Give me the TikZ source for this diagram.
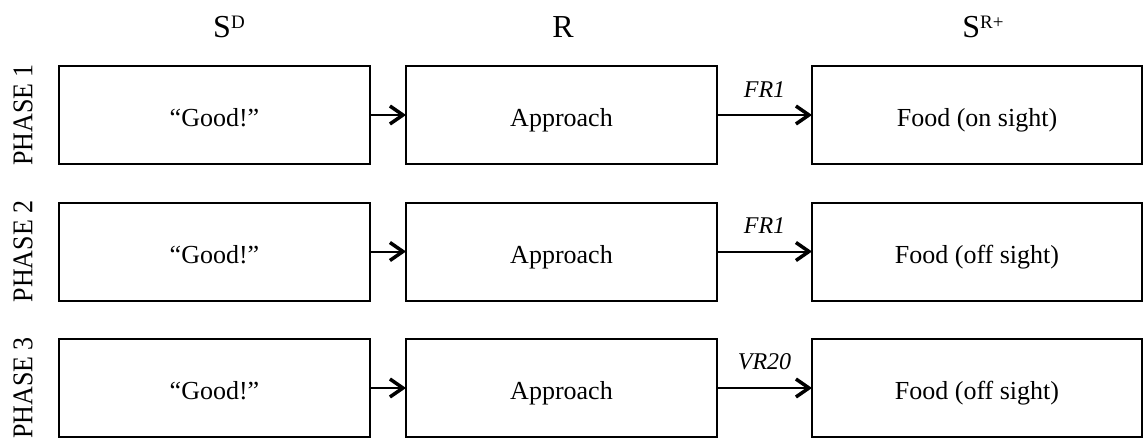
\documentclass[tikz,border=0pt]{standalone}
\usepackage{fontspec}
\setmainfont{Liberation Serif}
\usetikzlibrary{arrows.meta}
\begin{document}
\begin{tikzpicture}[x=1pt,y=-1pt,
 box/.style={draw, line width=2pt, inner sep=0pt, outer sep=0pt, minimum height=98pt, text height=23pt, text depth=0pt, font=\fontsize{26}{30}\selectfont},
 boxa/.style={box, minimum width=311pt},
 boxc/.style={box, minimum width=330pt},
 conn/.style={line width=2pt, -{Straight Barb[length=13pt,width=18pt,line width=3.5pt]}},
 sched/.style={font=\fontsize{24}{28}\selectfont\itshape, inner sep=0pt, above=17pt},
 head/.style={font=\fontsize{32}{36}\selectfont, anchor=base, inner sep=0pt},
 phase/.style={font=\fontsize{26}{30}\selectfont, rotate=90, inner sep=0pt},
]
\useasboundingbox (0,0) rectangle (1144,439);

% headers
\node[head] (hsd) at (229,37) {S\raisebox{8.5pt}{\fontsize{19}{20}\selectfont D}};
\node[head] (hr) at (563,37) {R};
\node[head] (hsr) at (983,37) {S\raisebox{8.5pt}{\fontsize{19}{20}\selectfont R+}};

% phase labels
\node[phase] (p1) at (23,115) {\scalebox{1}[1.1]{PHASE 1}};
\node[phase] (p2) at (23,251.5) {\scalebox{1}[1.1]{PHASE 2}};
\node[phase] (p3) at (23,388) {\scalebox{1}[1.1]{PHASE 3}};

% row 1
\node[boxa] (g1) at (214.5,115) {“Good!”};
\node[boxa] (a1) at (561.5,115) {Approach};
\node[boxc] (f1) at (977,115) {Food (on sight)};
% row 2
\node[boxa] (g2) at (214.5,251.5) {“Good!”};
\node[boxa] (a2) at (561.5,251.5) {Approach};
\node[boxc] (f2) at (977,251.5) {Food (off sight)};
% row 3
\node[boxa] (g3) at (214.5,388) {“Good!”};
\node[boxa] (a3) at (561.5,388) {Approach};
\node[boxc] (f3) at (977,388) {Food (off sight)};

\draw[conn] (g1) -- (a1);
\draw[conn] (a1) -- node[sched] (l1) {FR1} (f1);
\draw[conn] (g2) -- (a2);
\draw[conn] (a2) -- node[sched] (l2) {FR1} (f2);
\draw[conn] (g3) -- (a3);
\draw[conn] (a3) -- node[sched] (l3) {VR20} (f3);
\end{tikzpicture}
\end{document}
